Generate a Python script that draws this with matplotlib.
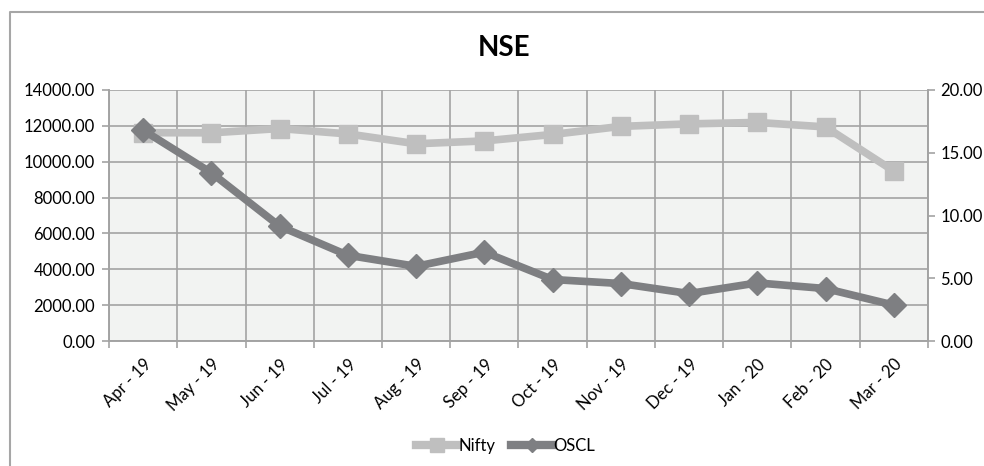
import numpy as np
import matplotlib
matplotlib.use("Agg")
import matplotlib.pyplot as plt
from matplotlib.lines import Line2D
from matplotlib.ticker import FormatStrFormatter, FixedLocator

plt.rcParams['font.family'] = ['Lato', 'DejaVu Sans']

months = ["Apr - 19", "May - 19", "Jun - 19", "Jul - 19", "Aug - 19", "Sep - 19",
          "Oct - 19", "Nov - 19", "Dec - 19", "Jan - 20", "Feb - 20", "Mar - 20"]
nifty = [11620, 11610, 11850, 11550, 11000, 11160,
         11520, 11970, 12110, 12190, 11940, 9480]
oscl = [16.8, 13.4, 9.15, 6.83, 5.95, 7.08,
        4.9, 4.58, 3.78, 4.63, 4.18, 2.86]

nifty_col = '#BFBFBF'
oscl_col = '#7E7F82'
grid_col = '#A3A3A3'
fs = 12

fig = plt.figure(figsize=(9.84, 4.66), dpi=100)
ax = fig.add_axes([0.1108, 0.2682, 0.8322, 0.5387])
ax.set_facecolor('#F2F3F2')

x = np.arange(len(months))
ax.plot(x, nifty, color=nifty_col, lw=5.5, marker='s', ms=13,
        markeredgecolor=nifty_col, label='Nifty', zorder=3)
ax.set_xlim(-0.5, len(months) - 0.5)
ax.set_ylim(0, 14000)
ax.set_yticks(np.arange(0, 14001, 2000))
ax.yaxis.set_major_formatter(FormatStrFormatter('%.2f'))
ax.set_xticks(x)
ax.set_xticklabels(months, rotation=45, ha='right', rotation_mode='anchor')
ax.xaxis.set_minor_locator(FixedLocator(np.arange(-0.5, len(months), 1.0)))
ax.tick_params(axis='x', which='major', length=0, pad=11, labelsize=fs)
ax.tick_params(axis='x', which='minor', length=5, color=grid_col, width=1.2)
ax.tick_params(axis='y', length=5, color=grid_col, width=1.2, labelsize=fs, pad=5)
ax.grid(True, axis='y', color=grid_col, lw=1.2, zorder=0)
ax.grid(True, axis='x', which='minor', color=grid_col, lw=1.2, zorder=0)
ax.set_axisbelow(True)
ax.spines['top'].set_visible(False)
for s in ['left', 'bottom', 'right']:
    ax.spines[s].set_color(grid_col)
    ax.spines[s].set_linewidth(1.2)

ax2 = ax.twinx()
ax2.plot(x, oscl, color=oscl_col, lw=5.5, marker='D', ms=12,
         markeredgecolor=oscl_col, label='OSCL', zorder=4)
ax2.set_ylim(0, 20)
ax2.set_yticks(np.arange(0, 20.1, 5))
ax2.yaxis.set_major_formatter(FormatStrFormatter('%.2f'))
ax2.tick_params(axis='y', length=5, color=grid_col, width=1.2, labelsize=fs, pad=4)
ax2.spines['top'].set_visible(False)
for s in ['left', 'bottom', 'right']:
    ax2.spines[s].set_color(grid_col)
    ax2.spines[s].set_linewidth(1.2)

fig.text(0.512, 0.898, 'NSE', ha='center', va='center', fontsize=20, fontweight='bold')

h1 = Line2D([], [], color=nifty_col, lw=6, marker='s', ms=10, markeredgecolor=nifty_col)
h2 = Line2D([], [], color=oscl_col, lw=6, marker='D', ms=7, markeredgecolor=oscl_col)
fig.legend([h1, h2], ['Nifty', 'OSCL'], loc='center', bbox_to_anchor=(0.514, 0.043),
           ncol=2, frameon=False, fontsize=fs, handlelength=2.5,
           handletextpad=0.05, columnspacing=0.9)

# outer chart frame (cropped at right and bottom)
fig.add_artist(Line2D([0.0102, 0.0102, 1.0], [0.0, 0.9753, 0.9753],
                      transform=fig.transFigure, color='#A6A6A6', lw=1.5))

fig.savefig('out.png', dpi=100)
